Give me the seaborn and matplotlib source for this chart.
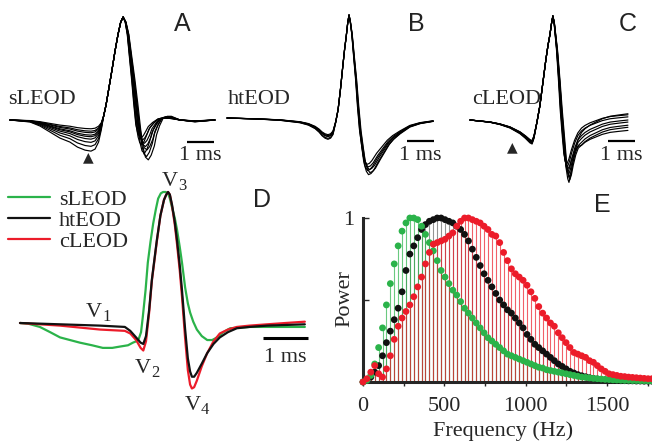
import matplotlib
matplotlib.use("Agg")
import matplotlib.pyplot as plt
from matplotlib.lines import Line2D
import numpy as np
import pandas as pd
import seaborn as sns

W, H = 652, 444
GREEN = "#2bb34a"
BLACK = "#111111"
RED = "#ec1c2a"

# ---------------- A-C: single-fish overlays (ms, normalised to V3) ----------------
a_time = [0, 0.74, 1.11, 1.48, 1.85, 2.22, 2.5, 2.78, 3.0, 3.15,
          3.28, 3.38, 3.47, 3.56, 3.67, 3.78, 3.89, 4.0, 4.1, 4.19,
          4.28, 4.37, 4.46, 4.56, 4.65, 4.74, 4.82, 4.89, 4.98, 5.07,
          5.17, 5.26, 5.4, 5.56, 5.75, 5.93, 6.3, 6.85, 7.59]
a_volt = [0, -0.01, -0.03, -0.06, -0.09, -0.11, -0.135, -0.15, -0.155, -0.145,
          -0.11, -0.05, 0.04, 0.15, 0.32, 0.49, 0.67, 0.83, 0.95, 1.0,
          0.95, 0.83, 0.62, 0.39, 0.16, -0.05, -0.15, -0.20, -0.215, -0.19,
          -0.14, -0.08, -0.03, 0.01, 0.02, 0.02, 0.0, -0.01, 0]
a_pre = [0.55, 0.7, 0.8, 0.95, 1.05, 1.2, 1.4, 1.65, 1.95]
a_post = [0.8, 0.9, 1.05, 1.2, 1.35, 1.5, 1.65, 1.8, 1.1]
a_warp = [0.85, 0.92, 1.0, 1.05, 1.12, 1.0, 1.1, 1.18, 0.88]

b_time = [0, 1.24, 2.0, 2.73, 3.05, 3.30, 3.45, 3.56, 3.67, 3.78,
          3.88, 3.97, 4.07, 4.16, 4.25, 4.34, 4.41, 4.46, 4.52, 4.57,
          4.62, 4.68, 4.75, 4.83, 4.9, 4.98, 5.06, 5.13, 5.2, 5.28,
          5.37, 5.47, 5.65, 5.84, 6.03, 6.22, 6.48, 6.85, 7.23, 7.72]
b_volt = [0, -0.01, -0.02, -0.04, -0.06, -0.09, -0.12, -0.15, -0.17, -0.18,
          -0.17, -0.14, -0.04, 0.08, 0.28, 0.51, 0.68, 0.78, 0.92, 1.0,
          0.93, 0.81, 0.6, 0.37, 0.12, -0.12, -0.28, -0.41, -0.47, -0.50,
          -0.49, -0.46, -0.38, -0.31, -0.24, -0.19, -0.14, -0.08, -0.05, -0.03]
b_pre = [0.9, 1.0, 1.1, 1.0, 0.95, 1.15]
b_post = [0.9, 0.95, 1.0, 1.02, 1.06, 1.1]
b_warp = [0.95, 1.0, 1.06, 0.98, 1.1, 1.03]

c_time = [0, 0.74, 1.11, 1.48, 1.85, 2.05, 2.22, 2.30, 2.37, 2.48,
          2.59, 2.70, 2.81, 2.89, 2.96, 3.02, 3.07, 3.12, 3.17, 3.22,
          3.30, 3.37, 3.45, 3.52, 3.58, 3.63, 3.70, 3.78, 3.89, 4.0,
          4.13, 4.26, 4.45, 4.63, 4.9, 5.19, 5.5, 5.85]
c_volt = [0, -0.02, -0.04, -0.07, -0.12, -0.16, -0.20, -0.21, -0.16, -0.02,
          0.14, 0.36, 0.58, 0.72, 0.82, 0.93, 1.0, 0.93, 0.80, 0.67,
          0.38, 0.10, -0.16, -0.38, -0.47, -0.50, -0.45, -0.36, -0.26, -0.19,
          -0.15, -0.12, -0.09, -0.07, -0.04, -0.02, -0.01, 0]
c_pre = [0.95, 1.0, 1.05, 1.0, 1.1, 0.95, 1.0, 1.05]
c_post = [0.85, 0.9, 1.0, 1.05, 1.1, 1.15, 1.2, 0.95]
c_warp = [0.9, 0.95, 1.0, 1.05, 1.1, 1.15, 1.08, 0.97]
c_tail = [0.05, 0.03, 0.0, -0.02, -0.05, -0.07, 0.06, -0.1]

# ---------------- D: averaged EODs ----------------
d_s_time = [0, 0.18, 0.44, 0.67, 0.89, 1.11, 1.33, 1.6, 1.84, 2.05,
            2.22, 2.40, 2.51, 2.58, 2.64, 2.69, 2.73, 2.79, 2.84, 2.90,
            2.96, 3.02, 3.07, 3.13, 3.18, 3.24, 3.29, 3.33, 3.38, 3.44,
            3.49, 3.55, 3.60, 3.67, 3.73, 3.78, 3.85, 3.93, 4.04, 4.16,
            4.27, 4.38, 4.52, 4.67, 4.9, 5.11, 5.6, 6.33]
d_s_volt = [0, -0.005, -0.03, -0.07, -0.11, -0.13, -0.15, -0.17, -0.19, -0.19,
            -0.18, -0.17, -0.15, -0.14, -0.12, -0.07, 0.05, 0.25, 0.46, 0.62,
            0.76, 0.87, 0.95, 0.99, 1.0, 1.0, 0.99, 0.95, 0.88, 0.80,
            0.71, 0.58, 0.46, 0.27, 0.15, 0.08, 0.01, -0.05, -0.10, -0.13,
            -0.13, -0.11, -0.07, -0.04, -0.035, -0.03, -0.03, -0.03]
d_h_time = [0, 0.89, 1.78, 2.33, 2.45, 2.58, 2.68, 2.74, 2.80, 2.87,
            2.93, 3.04, 3.12, 3.20, 3.25, 3.29, 3.33, 3.38, 3.44, 3.49,
            3.55, 3.60, 3.67, 3.73, 3.78, 3.82, 3.87, 3.93, 4.04, 4.16,
            4.30, 4.44, 4.62, 4.82, 5.1, 5.49, 5.9, 6.33]
d_h_volt = [0, -0.01, -0.02, -0.03, -0.06, -0.11, -0.15, -0.16, -0.10, 0.10,
            0.33, 0.63, 0.82, 0.94, 0.98, 1.0, 0.98, 0.90, 0.77, 0.63,
            0.44, 0.25, -0.05, -0.27, -0.37, -0.41, -0.41, -0.38, -0.31, -0.23,
            -0.16, -0.11, -0.07, -0.04, -0.03, -0.02, -0.015, -0.01]
d_c_time = d_h_time
d_c_volt = [0, -0.02, -0.05, -0.06, -0.08, -0.13, -0.19, -0.21, -0.14, 0.08,
            0.32, 0.62, 0.82, 0.94, 0.98, 1.0, 0.98, 0.89, 0.75, 0.60,
            0.40, 0.20, -0.12, -0.36, -0.47, -0.50, -0.49, -0.44, -0.33, -0.23,
            -0.14, -0.08, -0.05, -0.03, -0.02, -0.01, 0.0, 0.01]

# ---------------- E: power spectra (24 Hz bins) ----------------
e_freq = list(range(0, 1800, 24))
e_power_s = [0.00, 0.01, 0.04, 0.11, 0.21, 0.33, 0.47, 0.60, 0.72, 0.83,
             0.92, 0.97, 1.00, 1.00, 0.99, 0.95, 0.90, 0.85, 0.80, 0.74,
             0.68, 0.64, 0.60, 0.56, 0.53, 0.49, 0.45, 0.42, 0.39, 0.36,
             0.33, 0.30, 0.27, 0.25, 0.23, 0.21, 0.19, 0.17, 0.16, 0.15,
             0.14, 0.13, 0.12, 0.11, 0.10, 0.09, 0.085, 0.075, 0.07, 0.065,
             0.06, 0.055, 0.05, 0.045, 0.04, 0.035, 0.03, 0.028, 0.025, 0.022,
             0.02, 0.018, 0.016, 0.015, 0.013, 0.012, 0.011, 0.01, 0.01, 0.009,
             0.009, 0.008, 0.008, 0.007, 0.007]
e_power_h = [0.00, 0.01, 0.03, 0.06, 0.10, 0.16, 0.24, 0.31, 0.38, 0.45,
             0.55, 0.68, 0.78, 0.83, 0.88, 0.93, 0.96, 0.98, 0.99, 1.00,
             1.00, 0.99, 0.98, 0.97, 0.95, 0.93, 0.90, 0.86, 0.81, 0.76,
             0.71, 0.66, 0.62, 0.58, 0.54, 0.50, 0.47, 0.44, 0.42, 0.39,
             0.36, 0.33, 0.29, 0.26, 0.23, 0.21, 0.19, 0.17, 0.15, 0.13,
             0.11, 0.095, 0.08, 0.065, 0.055, 0.045, 0.038, 0.032, 0.026, 0.022,
             0.018, 0.015, 0.013, 0.011, 0.01, 0.009, 0.008, 0.008, 0.007, 0.007,
             0.006, 0.006, 0.005, 0.005, 0.005]
e_power_c = [0.00, 0.02, 0.06, 0.10, 0.05, 0.03, 0.08, 0.16, 0.26, 0.34,
             0.39, 0.43, 0.47, 0.52, 0.58, 0.64, 0.72, 0.79, 0.84, 0.85,
             0.86, 0.87, 0.89, 0.91, 0.95, 0.98, 1.00, 1.00, 0.99, 0.98,
             0.97, 0.95, 0.93, 0.90, 0.89, 0.85, 0.79, 0.74, 0.69, 0.66,
             0.64, 0.62, 0.59, 0.55, 0.51, 0.46, 0.42, 0.39, 0.36, 0.34,
             0.30, 0.27, 0.24, 0.21, 0.18, 0.17, 0.16, 0.15, 0.13, 0.12,
             0.10, 0.08, 0.065, 0.05, 0.045, 0.04, 0.035, 0.033, 0.03, 0.028,
             0.026, 0.024, 0.022, 0.02, 0.02]

sns.set_theme(style="ticks")
plt.rcParams["font.family"] = ["Liberation Serif", "DejaVu Sans"]

fig = plt.figure(figsize=(W / 100, H / 100), dpi=100)
fig.patch.set_facecolor("white")


def px_axes(box):
    l, t, r, b = box
    return fig.add_axes([l / W, 1 - b / H, (r - l) / W, (b - t) / H])


def wave_axes(box, x0, px_ms, y0, px_amp):
    ax = px_axes(box)
    l, t, r, b = box
    ax.set_xlim((l - x0) / px_ms, (r - x0) / px_ms)
    ax.set_ylim((y0 - b) / px_amp, (y0 - t) / px_amp)
    ax.axis("off")
    return ax


def ptext(x, y, s, **kw):
    kw.setdefault("ha", "center")
    kw.setdefault("va", "center")
    fig.text(x / W, 1 - y / H, s, **kw)


def pline(x0, x1, y, lw):
    fig.add_artist(Line2D([x0 / W, x1 / W], [1 - y / H, 1 - y / H],
                          transform=fig.transFigure, color="black", lw=lw,
                          solid_capstyle="butt"))


def overlay(base_t, base_v, pre, post, warp, win, tail=None):
    # each recorded trace = the panel's typical trace with its own V1/V2 lobe,
    # V4 depth and post-peak timing, as read off the overlay
    t = np.asarray(base_t, float)
    v = np.asarray(base_v, float)
    tp = t[np.argmax(v)]
    tm = t[np.argmin(np.where(t > tp, v, 9))]
    frames = []
    for i in range(len(pre)):
        vi = v.copy()
        vi[(t < tp) & (v < 0)] *= pre[i]
        vi[(t > tp) & (v < 0.1)] *= post[i]
        d = t - tp
        k = warp[i]
        dd = np.where((d > 0) & (d <= win), d * k,
                      np.where((d > win) & (d < 2 * win),
                               win * k + (d - win) * (2 - k), d))
        if tail is not None:
            vi = vi + tail[i] * np.clip((t - tm) / 0.5, 0, 1)
        frames.append(pd.DataFrame({"t": tp + dd, "v": vi, "trace": i}))
    return pd.concat(frames, ignore_index=True)


# ---- A, B, C ----
panels = [
    ((0, 0, 232, 172), 10, 27.0, 120, 103,
     overlay(a_time, a_volt, a_pre, a_post, a_warp, 1.0)),
    ((222, 0, 445, 180), 227, 26.7, 118, 103,
     overlay(b_time, b_volt, b_pre, b_post, b_warp, 1.0)),
    ((462, 0, 652, 185), 470, 27.0, 120, 104,
     overlay(c_time, c_volt, c_pre, c_post, c_warp, 0.5, c_tail)),
]
for box, x0, pxms, y0, amp, df in panels:
    ax = wave_axes(box, x0, pxms, y0, amp)
    sns.lineplot(data=df, x="t", y="v", units="trace", estimator=None,
                 color="black", lw=0.85, ax=ax, legend=False)

letter = dict(family=["Liberation Sans", "DejaVu Sans"], fontsize=18, color="#222222")
lab = dict(fontsize=16)
ptext(182, 24, "A", **letter)
ptext(416, 24, "B", **letter)
ptext(628, 24, "C", **letter)
ptext(8, 100, "sLEOD", ha="left", **lab)
ptext(228, 99, "htEOD", ha="left", **lab)
ptext(472, 99, "cLEOD", ha="left", **lab)
for xb, yb, length in [(187, 142, 27.0), (407, 141, 26.7), (608, 141, 27.0)]:
    pline(xb, xb + length, yb, 1.6)
ptext(200, 156, "1 ms", **lab)
ptext(420, 156, "1 ms", **lab)
ptext(621, 156, "1 ms", **lab)
ptext(88, 157, "\u25B2", family="DejaVu Sans", fontsize=10)
ptext(512, 147, "\u25B2", family="DejaVu Sans", fontsize=10)

# ---- D ----
ax = wave_axes((0, 175, 330, 425), 20, 45.0, 323, 131)
sns.lineplot(x=d_s_time, y=d_s_volt, color=GREEN, lw=1.6, label="sLEOD", ax=ax, zorder=2)
sns.lineplot(x=d_h_time, y=d_h_volt, color=BLACK, lw=1.6, label="htEOD", ax=ax, zorder=4)
sns.lineplot(x=d_c_time, y=d_c_volt, color=RED, lw=1.6, label="cLEOD", ax=ax, zorder=3)
ax.legend(loc="upper left", bbox_to_anchor=(8 / W, 1 - 189 / H), bbox_transform=fig.transFigure,
          frameon=False, fontsize=16, handlelength=1.9, handletextpad=0.4,
          labelspacing=0.03, borderpad=0, borderaxespad=0)
ptext(262, 200, "D", **letter)
pline(263, 308, 338, 2.2)
ptext(285, 357, "1 ms", **lab)
for (xv, yv, sub) in [(86, 317, "1"), (135, 373, "2"), (162, 186, "3"), (185, 410, "4")]:
    fig.text(xv / W, 1 - yv / H, "V", fontsize=16, ha="left", va="baseline")
    fig.text((xv + 16) / W, 1 - (yv + 4) / H, sub, fontsize=12, ha="left", va="baseline")

# ---- E ----
ax = px_axes((363, 190, 652, 382))
e_df = pd.concat([
    pd.DataFrame({"freq": e_freq, "power": e_power_h, "type": "htEOD"}),
    pd.DataFrame({"freq": e_freq, "power": e_power_s, "type": "sLEOD"}),
    pd.DataFrame({"freq": e_freq, "power": e_power_c, "type": "cLEOD"}),
], ignore_index=True)
stem_style = {"htEOD": (BLACK, 0.45), "sLEOD": (GREEN, 0.7), "cLEOD": (RED, 0.7)}
for name, (col, alpha) in stem_style.items():
    sub = e_df[e_df["type"] == name]
    ax.vlines(sub["freq"], 0, sub["power"], color=col, lw=0.8, alpha=alpha, zorder=1)
sns.scatterplot(data=e_df, x="freq", y="power", hue="type",
                palette={"htEOD": BLACK, "sLEOD": GREEN, "cLEOD": RED},
                s=24, linewidth=0, legend=False, ax=ax, clip_on=False, zorder=3)
ax.set_xlim(0, 1776)
ax.set_ylim(0, (382 - 190) / 164)
ax.set_xticks(range(0, 1776, 250))
ax.set_xticklabels([str(v) if v % 500 == 0 else "" for v in range(0, 1776, 250)])
ax.set_yticks([0.5, 1])
ax.set_yticklabels(["", "1"])
ax.tick_params(axis="x", direction="out", length=3, width=1, pad=8, labelsize=16)
ax.tick_params(axis="y", direction="in", length=4, width=1, pad=6, labelsize=16)
sns.despine(ax=ax)
ax.spines["left"].set_bounds(0, 1)
ax.spines["left"].set_linewidth(2.2)
ax.spines["bottom"].set_linewidth(2.2)
ax.set_xlabel("")
ax.set_ylabel("")
ax.set_facecolor("none")
ptext(345, 299, "Power", rotation=90, **lab)
ptext(503, 431, "Frequency (Hz)", **lab)
ptext(602, 205, "E", **letter)

fig.savefig("out.png", dpi=100, facecolor="white")
